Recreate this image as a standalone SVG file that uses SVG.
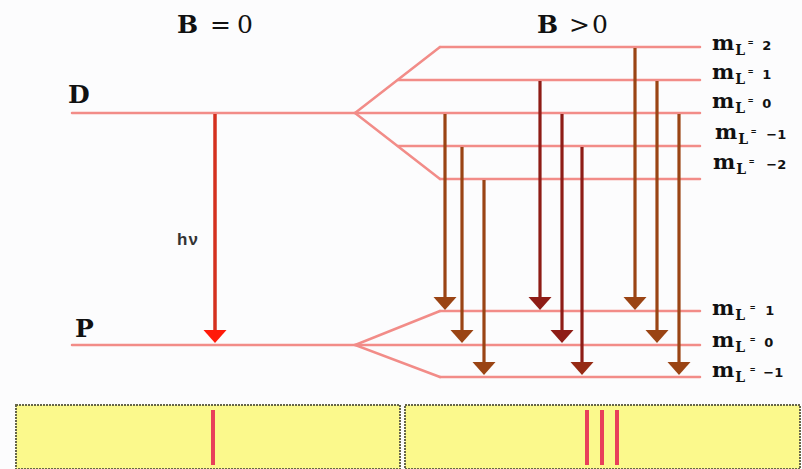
<svg xmlns="http://www.w3.org/2000/svg" xmlns:xlink="http://www.w3.org/1999/xlink" width="802" height="469" viewBox="0 0 802 469">
<style>
.lvl{stroke:#f28c88;stroke-width:2.5;fill:none;stroke-linecap:round}
.ttl{font-family:"DejaVu Serif",serif;font-size:25px;fill:#111}
.b{font-weight:bold}
.ml{font-family:"DejaVu Serif",serif;font-weight:bold;font-size:21px;fill:#111}
.sub{font-family:"DejaVu Serif",serif;font-weight:bold;font-size:14px}
.eq{font-family:"Liberation Sans",sans-serif;font-size:9px;font-weight:bold}
.num{font-family:"DejaVu Sans",sans-serif;font-weight:bold;font-size:13px}
.br{stroke:#9a4414;stroke-width:3.2}
.mr{stroke:#8e1c16;stroke-width:3.2}
.box{fill:#fbf98c;stroke:#66664a;stroke-width:2;stroke-dasharray:2 1}
.sp{stroke:#e8405a;stroke-width:4}
</style>
<defs>
<path id="ah" d="M-11.5,-13 L11.5,-13 L0,0 Z"/>
</defs>
<rect width="802" height="469" fill="#fcfcfd"/>

<g id="titles">
<text class="ttl b" x="177" y="33">B</text><text class="ttl" x="210" y="33">=</text><text class="ttl" x="237" y="33">0</text>
<text class="ttl b" x="537" y="33">B</text><text class="ttl" x="569" y="33">&gt;</text><text class="ttl" x="592" y="33">0</text>
</g>

<g id="level-D">
<text class="ttl b" x="68" y="103">D</text>
<path class="lvl" d="M72,113 H355"/>
</g>
<g id="level-P">
<text class="ttl b" x="75" y="337">P</text>
<path class="lvl" d="M72,345 H355"/>
</g>

<g id="D-split">
<path class="lvl" d="M440,47 L355,113 L440,179"/>
<path class="lvl" d="M440,47 H700 M398,80 H700 M355,113 H700 M398,146 H700 M440,179 H700"/>
</g>
<g id="P-split">
<path class="lvl" d="M440,311 L355,345 L440,377"/>
<path class="lvl" d="M440,311 H700 M355,345 H700 M440,377 H700"/>
</g>

<g id="labels-D">
<text class="ml" x="712" y="50">m<tspan class="sub" dx="1" dy="5">L</tspan><tspan class="eq" dx="3" dy="-9">=</tspan><tspan class="num" dx="9" dy="4">2</tspan></text>
<text class="ml" x="712" y="79">m<tspan class="sub" dx="1" dy="5">L</tspan><tspan class="eq" dx="3" dy="-9">=</tspan><tspan class="num" dx="9" dy="4">1</tspan></text>
<text class="ml" x="712" y="108">m<tspan class="sub" dx="1" dy="5">L</tspan><tspan class="eq" dx="3" dy="-9">=</tspan><tspan class="num" dx="9" dy="4">0</tspan></text>
<text class="ml" x="715" y="139">m<tspan class="sub" dx="1" dy="5">L</tspan><tspan class="eq" dx="3" dy="-9">=</tspan><tspan class="num" dx="10" dy="4">−1</tspan></text>
<text class="ml" x="713" y="169">m<tspan class="sub" dx="1" dy="5">L</tspan><tspan class="eq" dx="3" dy="-9">=</tspan><tspan class="num" dx="12" dy="4">−2</tspan></text>
</g>
<g id="labels-P">
<text class="ml" x="712" y="315">m<tspan class="sub" dx="1" dy="5">L</tspan><tspan class="eq" dx="5" dy="-9">=</tspan><tspan class="num" dx="10" dy="4">1</tspan></text>
<text class="ml" x="712" y="347">m<tspan class="sub" dx="1" dy="5">L</tspan><tspan class="eq" dx="5" dy="-9">=</tspan><tspan class="num" dx="9" dy="4">0</tspan></text>
<text class="ml" x="712" y="377">m<tspan class="sub" dx="1" dy="5">L</tspan><tspan class="eq" dx="5" dy="-9">=</tspan><tspan class="num" dx="8" dy="4">−1</tspan></text>
</g>

<g id="connectors">
<g id="arrow-B0">
<line x1="215" y1="114" x2="215" y2="332" stroke="#d4301e" stroke-width="3.5"/>
<use xlink:href="#ah" x="215" y="343" fill="#ff1a0a"/>
<text x="177" y="245" font-family="Liberation Sans, sans-serif" font-size="17" font-weight="bold" fill="#333" letter-spacing="1">hν</text>
</g>
<g fill="#9a4414">
<line class="br" x1="445" y1="114" x2="445" y2="298"/><use xlink:href="#ah" x="445" y="310"/>
<line class="br" x1="462" y1="147" x2="462" y2="331"/><use xlink:href="#ah" x="462" y="343"/>
<line class="br" x1="484" y1="180" x2="484" y2="363"/><use xlink:href="#ah" x="484" y="375"/>
</g>
<g fill="#8e1c16">
<line class="mr" x1="540" y1="81" x2="540" y2="298"/><use xlink:href="#ah" x="540" y="310"/>
<line class="mr" x1="562" y1="114" x2="562" y2="331"/><use xlink:href="#ah" x="562" y="343"/>
<line class="mr" x1="582" y1="147" x2="582" y2="363" stroke="#962a14"/><use xlink:href="#ah" x="582" y="375" fill="#962a14"/>
</g>
<g fill="#9a4414">
<line class="br" x1="635" y1="48" x2="635" y2="298"/><use xlink:href="#ah" x="635" y="310"/>
<line class="br" x1="657" y1="81" x2="657" y2="331"/><use xlink:href="#ah" x="657" y="343"/>
<line class="br" x1="679" y1="114" x2="679" y2="363"/><use xlink:href="#ah" x="679" y="375"/>
</g>
</g>

<g id="spectrum-B0">
<rect class="box" x="16" y="405" width="384" height="64"/>
<line class="sp" x1="213" y1="410" x2="213" y2="465"/>
</g>
<g id="spectrum-B1">
<rect class="box" x="405" y="405" width="395" height="64"/>
<line class="sp" x1="587" y1="410" x2="587" y2="465"/>
<line class="sp" x1="602" y1="410" x2="602" y2="465"/>
<line class="sp" x1="617" y1="410" x2="617" y2="465"/>
</g>
</svg>
